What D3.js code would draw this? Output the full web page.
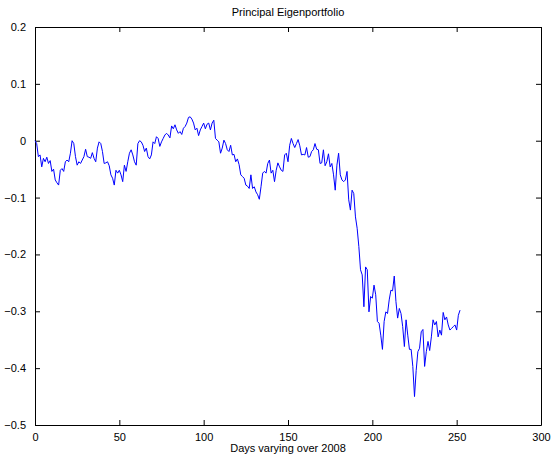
<!DOCTYPE html>
<html><head><meta charset="utf-8">
<script src="https://cdn.jsdelivr.net/npm/d3@7"></script>
<style>body{margin:0;background:#fff}svg{display:block}text{font-family:"Liberation Sans",Arial,Helvetica,sans-serif;font-size:11px;fill:#000}</style>
</head><body><svg id="c" width="552" height="458"></svg>
<script>
const title = "Principal Eigenportfolio";
const xLabel = "Days varying over 2008";
const xTicks = [0, 50, 100, 150, 200, 250, 300];
const yTicks = [-0.5, -0.4, -0.3, -0.2, -0.1, 0, 0.1, 0.2];
const seg0 = [0];
const seg1 = [-0.005,-0.028,-0.025,-0.046,-0.031,-0.037,-0.029,-0.040,-0.035,-0.054,-0.050,-0.069,-0.074,-0.078,-0.052,-0.049,-0.054,-0.037,-0.034,-0.037,-0.022,0.000,-0.005,-0.028,-0.043,-0.037,-0.040,-0.034,-0.028,-0.015,-0.028,-0.029,-0.031,-0.021,-0.031,-0.037,-0.013,-0.002,-0.005,-0.019,-0.040,-0.039,-0.037,-0.044,-0.060,-0.066,-0.078,-0.052,-0.057,-0.052,-0.060,-0.072,-0.043,-0.054,-0.037,-0.022,-0.016,-0.025,-0.037,-0.043,-0.005];
const seg2 = [0.000,-0.002,-0.008,-0.019,-0.013,-0.028,-0.032,-0.025,-0.002,-0.005,0.007,0.004,-0.010,-0.002,0.004,0.010,0.013,0.010,0.005,0.026,0.021,0.028,0.019,0.013,0.016,0.011,0.022,0.025,0.031,0.041,0.042,0.038,0.031,0.019,0.022,0.009,0.019,0.025,0.031,0.021,0.029,0.031,0.019,0.031,0.036,0.004,0.001,-0.002,-0.022,-0.013,0.001,-0.005,-0.016,-0.019,-0.008,-0.025,-0.024,-0.037,-0.032,-0.042];
const seg3 = [-0.060,-0.063,-0.066,-0.078,-0.080,-0.084,-0.060,-0.084,-0.081,-0.090,-0.095,-0.103,-0.081,-0.057,-0.054,-0.057,-0.040,-0.034,-0.057,-0.052,-0.072,-0.052,-0.039,-0.046,-0.052,-0.054,-0.025,-0.022,-0.037,-0.008,0.004,-0.005,-0.012,-0.005,0.002,-0.009,-0.025,-0.024,-0.025,-0.012,-0.029,-0.028,-0.019,-0.016,-0.005,-0.015,-0.016,-0.040,-0.039,-0.016,-0.044,-0.037,-0.023,-0.046,-0.040,-0.060,-0.087,-0.043,-0.022,-0.060,-0.069,-0.072,-0.069,-0.054,-0.104];
const seg4 = [-0.122,-0.087,-0.093,-0.134,-0.154,-0.186,-0.227,-0.236,-0.292,-0.222,-0.227,-0.301,-0.274,-0.277,-0.254,-0.271,-0.318,-0.321,-0.342,-0.367,-0.318,-0.301,-0.304,-0.280,-0.263,-0.264,-0.238,-0.283,-0.312,-0.295,-0.304,-0.327,-0.362,-0.315,-0.342,-0.367];
const seg5 = [-0.367,-0.397,-0.450,-0.404,-0.371,-0.365,-0.336,-0.332,-0.397,-0.371,-0.353,-0.369,-0.345,-0.315,-0.324,-0.318,-0.345,-0.333,-0.342,-0.302,-0.315,-0.310,-0.324,-0.333,-0.330,-0.327,-0.324,-0.333,-0.307,-0.298];
const values = [].concat(seg0, seg1, seg2, seg3, seg4, seg5);

const svg = d3.select("#c");
const m = {l:35, r:11, t:27, b:33};
const W = 552, H = 458;
const x = d3.scaleLinear().domain([0,300]).range([m.l, W-m.r]);
const y = d3.scaleLinear().domain([-0.5,0.2]).range([H-m.b, m.t]);
const fmt = d => d === 0 ? "0" : d3.format(".1f")(d).replace("-", "\u2212");

const g = svg.append("g");
// bottom axis
g.append("g").attr("transform",`translate(0,${y(-0.5)})`)
  .call(d3.axisBottom(x).tickValues(xTicks).tickSizeInner(-5).tickSizeOuter(0).tickPadding(8).tickFormat(d3.format("d")));
// top axis (ticks only)
g.append("g").attr("transform",`translate(0,${y(0.2)})`)
  .call(d3.axisTop(x).tickValues(xTicks).tickSizeInner(-5).tickSizeOuter(0).tickFormat(""));
// left axis
g.append("g").attr("transform",`translate(${x(0)},0)`)
  .call(d3.axisLeft(y).tickValues(yTicks).tickSizeInner(-5).tickSizeOuter(0).tickPadding(9).tickFormat(fmt));
// right axis
g.append("g").attr("transform",`translate(${x(300)},0)`)
  .call(d3.axisRight(y).tickValues(yTicks).tickSizeInner(-5).tickSizeOuter(0).tickFormat(""));
g.selectAll(".domain").attr("stroke","#000").attr("stroke-width",1);
g.selectAll(".tick line").attr("stroke","#000");
g.selectAll(".tick text").attr("fill","#000").style("font-size","11px").style("font-family",'"Liberation Sans",Arial,sans-serif');

const line = d3.line().x((d,i)=>x(i)).y(d=>y(d));
svg.append("path").datum(values).attr("d",line).attr("fill","none").attr("stroke","#0000ff").attr("stroke-width",1);

svg.append("text").attr("x",(x(0)+x(300))/2).attr("y",16).attr("text-anchor","middle").text(title);
svg.append("text").attr("x",(x(0)+x(300))/2).attr("y",452).attr("text-anchor","middle").text(xLabel);
</script></body></html>
